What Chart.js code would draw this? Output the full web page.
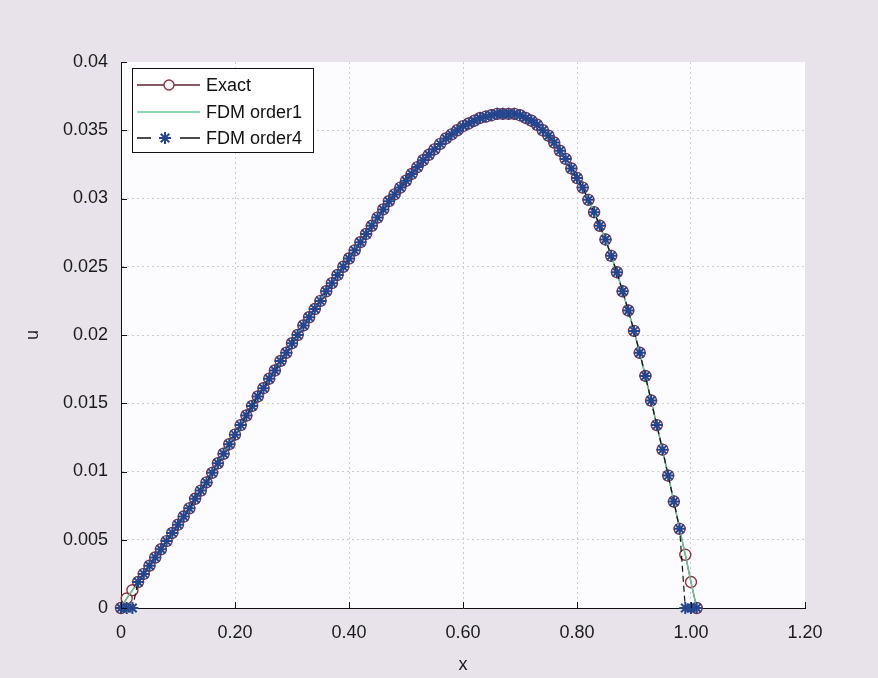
<!DOCTYPE html>
<html>
<head>
<meta charset="utf-8">
<script src="https://cdn.jsdelivr.net/npm/chart.js"></script>
<style>
  html, body { margin: 0; padding: 0; background: #e8e3ea; }
  #wrap { width: 878px; height: 678px; }
</style>
</head>
<body>
<div id="wrap"><canvas id="uChart" width="878" height="678"></canvas></div>
<script>
// grid points (x) and values
const xGrid = [
  0.00, 0.01, 0.02, 0.03, 0.04, 0.05, 0.06, 0.07, 0.08, 0.09,
  0.10, 0.11, 0.12, 0.13, 0.14, 0.15, 0.16, 0.17, 0.18, 0.19,
  0.20, 0.21, 0.22, 0.23, 0.24, 0.25, 0.26, 0.27, 0.28, 0.29,
  0.30, 0.31, 0.32, 0.33, 0.34, 0.35, 0.36, 0.37, 0.38, 0.39,
  0.40, 0.41, 0.42, 0.43, 0.44, 0.45, 0.46, 0.47, 0.48, 0.49,
  0.50, 0.51, 0.52, 0.53, 0.54, 0.55, 0.56, 0.57, 0.58, 0.59,
  0.60, 0.61, 0.62, 0.63, 0.64, 0.65, 0.66, 0.67, 0.68, 0.69,
  0.70, 0.71, 0.72, 0.73, 0.74, 0.75, 0.76, 0.77, 0.78, 0.79,
  0.80, 0.81, 0.82, 0.83, 0.84, 0.85, 0.86, 0.87, 0.88, 0.89,
  0.90, 0.91, 0.92, 0.93, 0.94, 0.95, 0.96, 0.97, 0.98, 0.99,
  1.00, 1.01
];

const exactU = [
  0.0000, 0.0007, 0.0013, 0.0019, 0.0025, 0.0031, 0.0037, 0.0043, 0.0049, 0.0055,
  0.0061, 0.0067, 0.0073, 0.0080, 0.0086, 0.0092, 0.0099, 0.0106, 0.0113, 0.0120,
  0.0127, 0.0134, 0.0141, 0.0148, 0.0155, 0.0161, 0.0168, 0.0174, 0.0181, 0.0187,
  0.0194, 0.0200, 0.0207, 0.0213, 0.0219, 0.0225, 0.0232, 0.0238, 0.0244, 0.0250,
  0.0256, 0.0262, 0.0268, 0.0274, 0.0280, 0.0286, 0.0292, 0.0298, 0.0303, 0.0308,
  0.0313, 0.0318, 0.0323, 0.0328, 0.0332, 0.0336, 0.0340, 0.0344, 0.0347, 0.0350,
  0.0353, 0.0355, 0.0357, 0.0359, 0.0360, 0.0361, 0.0362, 0.0362, 0.0362, 0.0362,
  0.0361, 0.0359, 0.0357, 0.0354, 0.0350, 0.0346, 0.0341, 0.0335, 0.0329, 0.0322,
  0.0315, 0.0308, 0.0299, 0.0290, 0.0280, 0.0270, 0.0258, 0.0246, 0.0232, 0.0218,
  0.0203, 0.0187, 0.0170, 0.0152, 0.0134, 0.0116, 0.0097, 0.0078, 0.0058, 0.0039,
  0.0019, 0.0000
];

// order1 lies under the exact curve everywhere
const fdm1U = [
  0.0000, 0.0007, 0.0013, 0.0019, 0.0025, 0.0031, 0.0037, 0.0043, 0.0049, 0.0055,
  0.0061, 0.0067, 0.0073, 0.0080, 0.0086, 0.0092, 0.0099, 0.0106, 0.0113, 0.0120,
  0.0127, 0.0134, 0.0141, 0.0148, 0.0155, 0.0161, 0.0168, 0.0174, 0.0181, 0.0187,
  0.0194, 0.0200, 0.0207, 0.0213, 0.0219, 0.0225, 0.0232, 0.0238, 0.0244, 0.0250,
  0.0256, 0.0262, 0.0268, 0.0274, 0.0280, 0.0286, 0.0292, 0.0298, 0.0303, 0.0308,
  0.0313, 0.0318, 0.0323, 0.0328, 0.0332, 0.0336, 0.0340, 0.0344, 0.0347, 0.0350,
  0.0353, 0.0355, 0.0357, 0.0359, 0.0360, 0.0361, 0.0362, 0.0362, 0.0362, 0.0362,
  0.0361, 0.0359, 0.0357, 0.0354, 0.0350, 0.0346, 0.0341, 0.0335, 0.0329, 0.0322,
  0.0315, 0.0308, 0.0299, 0.0290, 0.0280, 0.0270, 0.0258, 0.0246, 0.0232, 0.0218,
  0.0203, 0.0187, 0.0170, 0.0152, 0.0134, 0.0116, 0.0097, 0.0078, 0.0058, 0.0039,
  0.0019, 0.0000
];

// order4: zeros on the first and last three nodes
const fdm4U = [
  0.0000, 0.0000, 0.0000, 0.0019, 0.0025, 0.0031, 0.0037, 0.0043, 0.0049, 0.0055,
  0.0061, 0.0067, 0.0073, 0.0080, 0.0086, 0.0092, 0.0099, 0.0106, 0.0113, 0.0120,
  0.0127, 0.0134, 0.0141, 0.0148, 0.0155, 0.0161, 0.0168, 0.0174, 0.0181, 0.0187,
  0.0194, 0.0200, 0.0207, 0.0213, 0.0219, 0.0225, 0.0232, 0.0238, 0.0244, 0.0250,
  0.0256, 0.0262, 0.0268, 0.0274, 0.0280, 0.0286, 0.0292, 0.0298, 0.0303, 0.0308,
  0.0313, 0.0318, 0.0323, 0.0328, 0.0332, 0.0336, 0.0340, 0.0344, 0.0347, 0.0350,
  0.0353, 0.0355, 0.0357, 0.0359, 0.0360, 0.0361, 0.0362, 0.0362, 0.0362, 0.0362,
  0.0361, 0.0359, 0.0357, 0.0354, 0.0350, 0.0346, 0.0341, 0.0335, 0.0329, 0.0322,
  0.0315, 0.0308, 0.0299, 0.0290, 0.0280, 0.0270, 0.0258, 0.0246, 0.0232, 0.0218,
  0.0203, 0.0187, 0.0170, 0.0152, 0.0134, 0.0116, 0.0097, 0.0078, 0.0058, 0.0000,
  0.0000, 0.0000
];

const xTickLabels = ["0", "0.20", "0.40", "0.60", "0.80", "1.00", "1.20"];
const yTickLabels = ["0", "0.005", "0.01", "0.015", "0.02", "0.025", "0.03", "0.035", "0.04"];
const seriesNames = ["Exact", "FDM order1", "FDM order4"];

const FONT = "'Liberation Sans', Arial, sans-serif";
const EXACT_COLOR = "#8a3440";
const EXACT_LINE = "#5c2330";
const FDM1_COLOR = "#6cc49a";
const FDM4_LINE = "#111111";
const FDM4_STAR = "#24468e";

const toPoints = (ys) => xGrid.map((x, i) => ({ x: x, y: ys[i] }));

// page grey + white plot area
const backgroundPlugin = {
  id: "paperBg",
  beforeDraw: (chart) => {
    const { ctx, chartArea } = chart;
    ctx.save();
    ctx.fillStyle = "#e8e3ea";
    ctx.fillRect(0, 0, chart.width, chart.height);
    ctx.fillStyle = "#fcfcfe";
    ctx.fillRect(chartArea.left, chartArea.top,
      chartArea.right - chartArea.left, chartArea.bottom - chartArea.top);
    ctx.restore();
  },
};

// ticks pointing inward like matlab
const innerTicksPlugin = {
  id: "innerTicks",
  afterDraw: (chart) => {
    const { ctx, chartArea, scales: { x, y } } = chart;
    const len = 6;
    ctx.save();
    ctx.strokeStyle = "#111";
    ctx.lineWidth = 1;
    ctx.beginPath();
    x.ticks.forEach((t, i) => {
      const px = Math.round(x.getPixelForTick(i)) + 0.5;
      ctx.moveTo(px, chartArea.bottom);
      ctx.lineTo(px, chartArea.bottom - len);
    });
    y.ticks.forEach((t, i) => {
      const py = Math.round(y.getPixelForTick(i)) + 0.5;
      ctx.moveTo(chartArea.left, py);
      ctx.lineTo(chartArea.left + len, py);
    });
    ctx.stroke();
    ctx.restore();
  },
};

function drawStar(ctx, cx, cy, r) {
  ctx.beginPath();
  for (let k = 0; k < 4; k++) {
    const a = (Math.PI / 4) * k;
    ctx.moveTo(cx - r * Math.cos(a), cy - r * Math.sin(a));
    ctx.lineTo(cx + r * Math.cos(a), cy + r * Math.sin(a));
  }
  ctx.stroke();
}

const legendPlugin = {
  id: "boxLegend",
  afterDraw: (chart) => {
    const { ctx, chartArea } = chart;
    const bx = chartArea.left + 11;
    const by = chartArea.top + 6;
    const bw = 181;
    const bh = 84;
    ctx.save();
    ctx.fillStyle = "#ffffff";
    ctx.fillRect(bx, by, bw, bh);
    ctx.strokeStyle = "#111";
    ctx.lineWidth = 1;
    ctx.strokeRect(bx + 0.5, by + 0.5, bw, bh);

    const x1 = bx + 5, x2 = bx + 68, xm = bx + 37;
    const rows = [by + 17, by + 44, by + 70];

    // Exact
    ctx.strokeStyle = EXACT_LINE;
    ctx.lineWidth = 1.4;
    ctx.beginPath();
    ctx.moveTo(x1, rows[0]);
    ctx.lineTo(x2, rows[0]);
    ctx.stroke();
    ctx.strokeStyle = EXACT_COLOR;
    ctx.fillStyle = "#ffffff";
    ctx.beginPath();
    ctx.arc(xm, rows[0], 5, 0, Math.PI * 2);
    ctx.fill();
    ctx.stroke();

    // FDM order1
    ctx.strokeStyle = FDM1_COLOR;
    ctx.lineWidth = 1.5;
    ctx.beginPath();
    ctx.moveTo(x1, rows[1]);
    ctx.lineTo(x2, rows[1]);
    ctx.stroke();

    // FDM order4
    ctx.strokeStyle = FDM4_LINE;
    ctx.lineWidth = 1.4;
    ctx.beginPath();
    ctx.moveTo(x1, rows[2]);
    ctx.lineTo(x1 + 14, rows[2]);
    ctx.moveTo(x2 - 20, rows[2]);
    ctx.lineTo(x2, rows[2]);
    ctx.stroke();
    ctx.strokeStyle = FDM4_STAR;
    ctx.lineWidth = 2;
    drawStar(ctx, xm - 4, rows[2], 6);

    ctx.fillStyle = "#111";
    ctx.font = "18px " + FONT;
    ctx.textBaseline = "middle";
    ctx.textAlign = "left";
    seriesNames.forEach((name, i) => ctx.fillText(name, bx + 74, rows[i] + 1));
    ctx.restore();
  },
};

const ctx = document.getElementById("uChart").getContext("2d");

new Chart(ctx, {
  type: "line",
  data: {
    datasets: [
      {
        label: seriesNames[2],
        data: toPoints(fdm4U),
        borderColor: FDM4_LINE,
        borderWidth: 1.2,
        borderDash: [6, 4],
        pointStyle: "star",
        pointRadius: 6,
        pointBorderWidth: 2,
        pointBorderColor: FDM4_STAR,
        pointBackgroundColor: FDM4_STAR,
        tension: 0,
        fill: false,
        order: 0,
        clip: false,
      },
      {
        label: seriesNames[1],
        data: toPoints(fdm1U),
        borderColor: FDM1_COLOR,
        borderWidth: 1.5,
        pointRadius: 0,
        tension: 0,
        fill: false,
        order: 1,
        clip: false,
      },
      {
        label: seriesNames[0],
        data: toPoints(exactU),
        borderColor: EXACT_LINE,
        borderWidth: 1.2,
        pointStyle: "circle",
        pointRadius: 5.5,
        pointBorderWidth: 1.4,
        pointBorderColor: EXACT_COLOR,
        pointBackgroundColor: "rgba(255,255,255,0)",
        tension: 0,
        fill: false,
        order: 2,
        clip: false,
      },
    ],
  },
  plugins: [backgroundPlugin, innerTicksPlugin, legendPlugin],
  options: {
    responsive: false,
    animation: false,
    events: [],
    layout: { padding: { top: 62, right: 73, left: 0, bottom: 0 } },
    plugins: {
      legend: { display: false },
      tooltip: { enabled: false },
    },
    scales: {
      x: {
        type: "linear",
        min: 0,
        max: 1.2,
        afterFit: (scale) => { scale.height = 70; },
        border: { display: true, color: "#111", width: 1, dash: [2, 3] },
        grid: {
          drawTicks: false,
          color: (c) => (c.index === xTickLabels.length - 1 ? "rgba(0,0,0,0)" : "rgba(120,120,130,0.35)"),
          lineWidth: 1,
        },
        ticks: {
          stepSize: 0.2,
          padding: 14,
          color: "#1a1a1a",
          font: { family: FONT, size: 18 },
          maxRotation: 0,
          callback: (v, i) => xTickLabels[i],
        },
        title: {
          display: true,
          text: "x",
          color: "#1a1a1a",
          font: { family: FONT, size: 18 },
          padding: { top: 0, bottom: 2 },
        },
      },
      y: {
        type: "linear",
        min: 0,
        max: 0.04,
        afterFit: (scale) => { scale.width = 121; },
        border: { display: true, color: "#111", width: 1, dash: [2, 3] },
        grid: {
          drawTicks: false,
          color: (c) => (c.index === yTickLabels.length - 1 ? "rgba(0,0,0,0)" : "rgba(120,120,130,0.35)"),
          lineWidth: 1,
        },
        ticks: {
          stepSize: 0.005,
          padding: 13,
          color: "#1a1a1a",
          font: { family: FONT, size: 18 },
          callback: (v, i) => yTickLabels[i],
        },
        title: {
          display: true,
          text: "u",
          color: "#1a1a1a",
          font: { family: FONT, size: 18 },
          padding: { top: 22, bottom: 0 },
        },
      },
    },
  },
});
</script>
</body>
</html>
